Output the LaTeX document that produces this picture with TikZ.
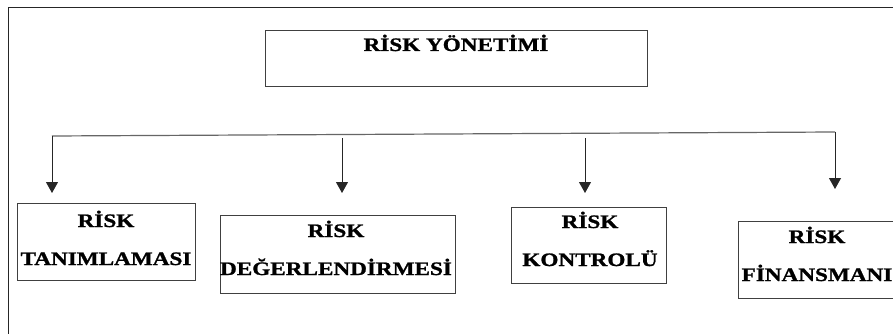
\documentclass[tikz,border=0pt]{standalone}
\usepackage{fontspec}
\setmainfont{Liberation Serif}[FakeStretch=1.22,BoldFeatures={FakeBold=1.2}]
\usetikzlibrary{arrows.meta}
\begin{document}
\begin{tikzpicture}[x=1pt,y=-1pt,
  frameline/.style={draw=black!85,line width=1pt},
  stepbox/.style={draw=black!75,line width=1pt,rectangle,inner sep=0pt},
  lbl/.style={font=\fontsize{19}{38}\selectfont\bfseries,align=center,anchor=base,inner sep=0pt},
  branch/.style={draw=black!85,line width=1pt,-{Triangle[length=11pt,width=12pt]}},
  busline/.style={draw=black!60,line width=1.2pt}]
\clip (0,0) rectangle (893,334);
\fill[white] (0,0) rectangle (893,334);

% outer frame (left and top edges)
\coordinate (f1) at (8,340);
\coordinate (f2) at (8,8);
\coordinate (f3) at (900,8);
\draw[frameline] (f1) -- (f2) -- (f3);

% head box
\node[stepbox,minimum width=382,minimum height=56] (top) at (456,59) {};
\node[lbl] (ttop) at (456,51) {RİSK YÖNETİMİ};

% distribution line and branch arrows
\coordinate (h1) at (52,136);
\coordinate (h4) at (835,132);
\draw[busline] (h1) -- (h4);
\coordinate (s2) at (342,138);
\coordinate (s3) at (585,138);
\coordinate (e1) at (52,193);
\coordinate (e2) at (342,193);
\coordinate (e3) at (585,193);
\coordinate (e4) at (835,189);
\draw[branch] (h1) -- (e1);
\draw[branch] (s2) -- (e2);
\draw[branch] (s3) -- (e3);
\draw[branch] (h4) -- (e4);

% sub boxes (label anchor = baseline of the second line)
\node[stepbox,minimum width=178,minimum height=77] (b1) at (106,241.5) {};
\node[lbl] (t1) at (106,265) {RİSK\\TANIMLAMASI};

\node[stepbox,minimum width=235,minimum height=78] (b2) at (337.5,254) {};
\node[lbl] (t2) at (336,275) {RİSK\\DEĞERLENDİRMESİ};

\node[stepbox,minimum width=155,minimum height=76] (b3) at (588.5,245) {};
\node[lbl] (t3) at (590,266) {RİSK\\KONTROLÜ};

\node[stepbox,minimum width=159,minimum height=77] (b4) at (817.5,259.5) {};
\node[lbl] (t4) at (817,281) {RİSK\\FİNANSMANI};
\end{tikzpicture}
\end{document}
